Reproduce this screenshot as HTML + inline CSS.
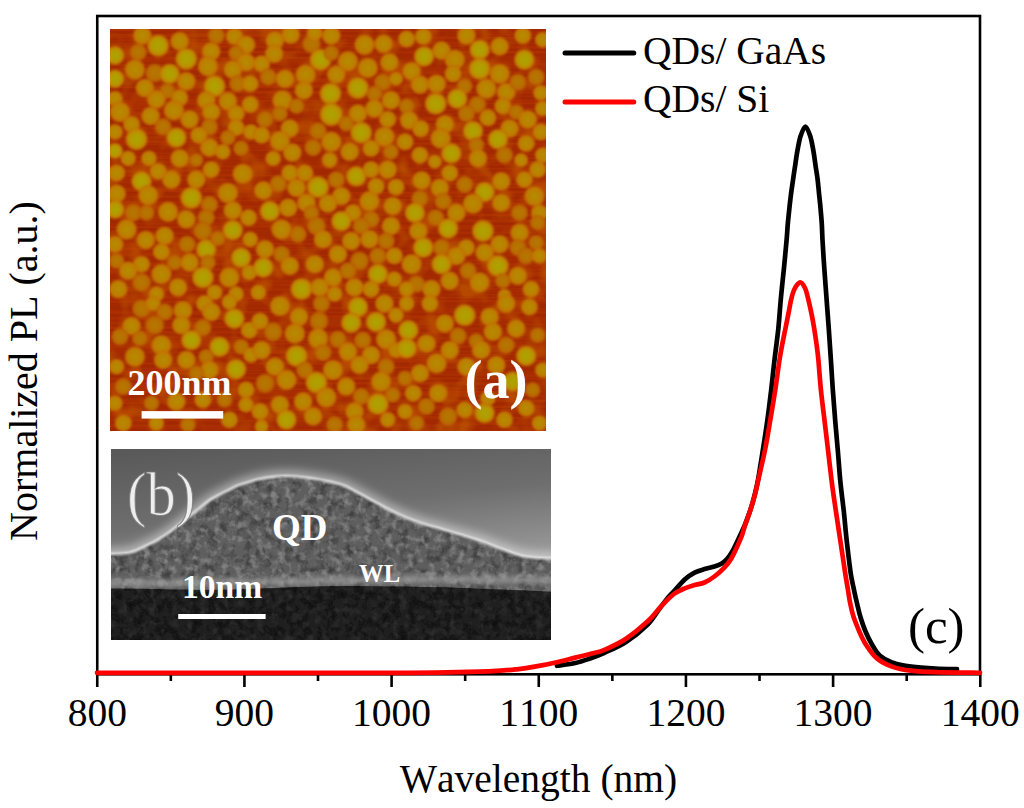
<!DOCTYPE html>
<html><head><meta charset="utf-8"><style>
html,body{margin:0;padding:0;background:#fff;width:1024px;height:808px;overflow:hidden}
svg{display:block}
text{font-family:"Liberation Serif",serif;font-kerning:none}
</style></head><body>
<svg width="1024" height="808" viewBox="0 0 1024 808">
<g id="afm">
<defs>
<clipPath id="afmclip"><rect x="110" y="29" width="436" height="402"/></clipPath>
<radialGradient id="gb"><stop offset="0" stop-color="#aca400"/><stop offset="0.45" stop-color="#b29c00"/><stop offset="0.75" stop-color="#c08a00"/><stop offset="0.92" stop-color="#c07000" stop-opacity="0.7"/><stop offset="1" stop-color="#b85800" stop-opacity="0"/></radialGradient>
<radialGradient id="gm"><stop offset="0" stop-color="#b48e00"/><stop offset="0.45" stop-color="#b98200"/><stop offset="0.75" stop-color="#c07c00"/><stop offset="0.92" stop-color="#c06800" stop-opacity="0.7"/><stop offset="1" stop-color="#b85000" stop-opacity="0"/></radialGradient>
<radialGradient id="gd"><stop offset="0" stop-color="#b47800"/><stop offset="0.45" stop-color="#b67200"/><stop offset="0.75" stop-color="#bb6800"/><stop offset="0.92" stop-color="#b85a00" stop-opacity="0.7"/><stop offset="1" stop-color="#b04800" stop-opacity="0"/></radialGradient>
<filter id="afmbg" filterUnits="userSpaceOnUse" x="110" y="29" width="436" height="402">
<feTurbulence type="fractalNoise" baseFrequency="0.05" numOctaves="2" seed="7" result="t"/>
<feColorMatrix in="t" type="matrix" values="0 0 0 0 0.74  0 0 0 0 0.30  0 0 0 0 0  0 0 0 -3 1.7"/>
</filter>
<filter id="afmstreak" filterUnits="userSpaceOnUse" x="110" y="29" width="436" height="402">
<feTurbulence type="fractalNoise" baseFrequency="0.004 0.35" numOctaves="2" seed="2" result="t"/>
<feColorMatrix in="t" type="matrix" values="0 0 0 0 0.56  0 0 0 0 0.06  0 0 0 0 0  0 0 0 -4 2.3"/>
</filter>
<filter id="afmblur" x="0" y="0" width="1" height="1"><feGaussianBlur stdDeviation="1.2"/></filter>
</defs>
<g clip-path="url(#afmclip)">
<rect x="110" y="29" width="436" height="402" fill="#a22800"/>
<rect x="110" y="29" width="436" height="402" filter="url(#afmbg)" opacity="0.3"/>
<rect x="110" y="29" width="436" height="402" filter="url(#afmstreak)" opacity="0.3"/>
<g filter="url(#afmblur)">
<circle cx="142.3" cy="35.6" r="10.0" fill="url(#gm)"/>
<circle cx="158.1" cy="45.6" r="11.7" fill="url(#gb)"/>
<circle cx="179.7" cy="41.4" r="10.0" fill="url(#gm)"/>
<circle cx="115.0" cy="55.5" r="10.0" fill="url(#gb)"/>
<circle cx="138.2" cy="52.2" r="9.2" fill="url(#gd)"/>
<circle cx="186.3" cy="58.9" r="11.7" fill="url(#gb)"/>
<circle cx="211.2" cy="51.4" r="10.0" fill="url(#gm)"/>
<circle cx="207.9" cy="66.3" r="10.9" fill="url(#gm)"/>
<circle cx="216.2" cy="35.6" r="9.2" fill="url(#gd)"/>
<circle cx="234.4" cy="36.5" r="9.2" fill="url(#gm)"/>
<circle cx="246.0" cy="44.8" r="10.0" fill="url(#gm)"/>
<circle cx="236.1" cy="53.1" r="8.4" fill="url(#gd)"/>
<circle cx="246.0" cy="62.2" r="10.0" fill="url(#gm)"/>
<circle cx="232.8" cy="69.6" r="10.0" fill="url(#gm)"/>
<circle cx="134.9" cy="69.6" r="10.9" fill="url(#gm)"/>
<circle cx="154.8" cy="73.0" r="10.0" fill="url(#gd)"/>
<circle cx="169.7" cy="73.8" r="10.9" fill="url(#gb)"/>
<circle cx="186.3" cy="81.3" r="10.0" fill="url(#gm)"/>
<circle cx="214.5" cy="86.2" r="11.7" fill="url(#gb)"/>
<circle cx="237.7" cy="83.7" r="9.2" fill="url(#gd)"/>
<circle cx="250.2" cy="83.7" r="9.2" fill="url(#gm)"/>
<circle cx="115.0" cy="78.8" r="10.0" fill="url(#gb)"/>
<circle cx="144.8" cy="87.9" r="10.0" fill="url(#gm)"/>
<circle cx="167.2" cy="91.2" r="8.4" fill="url(#gd)"/>
<circle cx="156.4" cy="99.5" r="10.0" fill="url(#gm)"/>
<circle cx="179.7" cy="97.8" r="9.2" fill="url(#gm)"/>
<circle cx="206.2" cy="100.3" r="10.0" fill="url(#gm)"/>
<circle cx="227.8" cy="101.2" r="10.0" fill="url(#gm)"/>
<circle cx="250.2" cy="104.5" r="9.2" fill="url(#gm)"/>
<circle cx="115.0" cy="98.7" r="8.4" fill="url(#gm)"/>
<circle cx="120.0" cy="111.9" r="10.9" fill="url(#gm)"/>
<circle cx="150.6" cy="116.1" r="10.0" fill="url(#gm)"/>
<circle cx="173.9" cy="110.3" r="10.9" fill="url(#gm)"/>
<circle cx="189.6" cy="119.4" r="10.0" fill="url(#gm)"/>
<circle cx="211.2" cy="111.9" r="10.0" fill="url(#gm)"/>
<circle cx="236.1" cy="113.6" r="9.2" fill="url(#gm)"/>
<circle cx="131.6" cy="124.4" r="9.2" fill="url(#gm)"/>
<circle cx="163.1" cy="126.9" r="9.2" fill="url(#gd)"/>
<circle cx="209.5" cy="126.9" r="9.2" fill="url(#gd)"/>
<circle cx="236.1" cy="127.7" r="9.2" fill="url(#gm)"/>
<circle cx="251.0" cy="131.9" r="8.4" fill="url(#gm)"/>
<circle cx="115.0" cy="131.9" r="8.4" fill="url(#gm)"/>
<circle cx="136.5" cy="139.3" r="11.7" fill="url(#gb)"/>
<circle cx="176.4" cy="137.7" r="10.9" fill="url(#gb)"/>
<circle cx="198.8" cy="135.2" r="9.2" fill="url(#gm)"/>
<circle cx="227.8" cy="137.7" r="8.4" fill="url(#gd)"/>
<circle cx="209.5" cy="147.6" r="10.0" fill="url(#gm)"/>
<circle cx="222.8" cy="151.8" r="8.4" fill="url(#gm)"/>
<circle cx="241.1" cy="148.4" r="8.4" fill="url(#gd)"/>
<circle cx="115.0" cy="150.9" r="8.4" fill="url(#gb)"/>
<circle cx="128.2" cy="158.4" r="8.4" fill="url(#gm)"/>
<circle cx="149.0" cy="158.4" r="8.4" fill="url(#gm)"/>
<circle cx="179.7" cy="158.4" r="10.0" fill="url(#gm)"/>
<circle cx="196.3" cy="160.1" r="7.5" fill="url(#gd)"/>
<circle cx="274.9" cy="40.6" r="10.0" fill="url(#gm)"/>
<circle cx="290.7" cy="34.8" r="10.0" fill="url(#gm)"/>
<circle cx="311.4" cy="43.9" r="10.0" fill="url(#gd)"/>
<circle cx="314.7" cy="33.1" r="8.4" fill="url(#gm)"/>
<circle cx="331.3" cy="35.6" r="10.0" fill="url(#gm)"/>
<circle cx="274.1" cy="53.9" r="10.0" fill="url(#gm)"/>
<circle cx="261.6" cy="63.8" r="9.2" fill="url(#gm)"/>
<circle cx="320.5" cy="59.7" r="11.7" fill="url(#gb)"/>
<circle cx="331.3" cy="53.1" r="8.4" fill="url(#gd)"/>
<circle cx="347.9" cy="61.3" r="10.9" fill="url(#gm)"/>
<circle cx="364.5" cy="44.8" r="10.9" fill="url(#gm)"/>
<circle cx="383.6" cy="43.9" r="10.0" fill="url(#gm)"/>
<circle cx="367.8" cy="68.0" r="10.9" fill="url(#gm)"/>
<circle cx="389.4" cy="62.2" r="10.0" fill="url(#gm)"/>
<circle cx="268.3" cy="77.1" r="9.2" fill="url(#gd)"/>
<circle cx="284.9" cy="78.8" r="10.0" fill="url(#gm)"/>
<circle cx="305.6" cy="74.6" r="10.9" fill="url(#gm)"/>
<circle cx="336.3" cy="74.6" r="10.0" fill="url(#gm)"/>
<circle cx="357.9" cy="87.9" r="11.7" fill="url(#gb)"/>
<circle cx="330.5" cy="93.7" r="11.7" fill="url(#gb)"/>
<circle cx="303.9" cy="90.4" r="10.0" fill="url(#gm)"/>
<circle cx="382.7" cy="82.1" r="9.2" fill="url(#gd)"/>
<circle cx="396.0" cy="78.8" r="7.5" fill="url(#gm)"/>
<circle cx="282.4" cy="100.3" r="10.9" fill="url(#gm)"/>
<circle cx="296.5" cy="106.1" r="8.4" fill="url(#gd)"/>
<circle cx="374.4" cy="93.7" r="8.4" fill="url(#gd)"/>
<circle cx="391.0" cy="100.3" r="10.0" fill="url(#gm)"/>
<circle cx="331.3" cy="114.4" r="12.5" fill="url(#gb)"/>
<circle cx="357.9" cy="113.6" r="10.0" fill="url(#gm)"/>
<circle cx="374.4" cy="108.6" r="10.0" fill="url(#gm)"/>
<circle cx="387.7" cy="119.4" r="9.2" fill="url(#gm)"/>
<circle cx="265.0" cy="119.4" r="9.2" fill="url(#gd)"/>
<circle cx="289.8" cy="128.5" r="10.0" fill="url(#gm)"/>
<circle cx="279.9" cy="113.6" r="8.4" fill="url(#gd)"/>
<circle cx="346.2" cy="123.6" r="8.4" fill="url(#gd)"/>
<circle cx="361.2" cy="132.7" r="11.7" fill="url(#gb)"/>
<circle cx="384.4" cy="136.8" r="10.9" fill="url(#gm)"/>
<circle cx="318.0" cy="131.0" r="9.2" fill="url(#gd)"/>
<circle cx="331.3" cy="141.8" r="10.9" fill="url(#gm)"/>
<circle cx="279.9" cy="141.0" r="10.9" fill="url(#gm)"/>
<circle cx="261.6" cy="135.2" r="9.2" fill="url(#gm)"/>
<circle cx="313.1" cy="147.6" r="9.2" fill="url(#gd)"/>
<circle cx="292.3" cy="152.6" r="10.0" fill="url(#gm)"/>
<circle cx="349.6" cy="151.8" r="10.0" fill="url(#gm)"/>
<circle cx="371.1" cy="148.4" r="9.2" fill="url(#gm)"/>
<circle cx="391.0" cy="151.8" r="8.4" fill="url(#gd)"/>
<circle cx="273.2" cy="158.4" r="8.4" fill="url(#gm)"/>
<circle cx="329.7" cy="160.1" r="8.4" fill="url(#gm)"/>
<circle cx="406.6" cy="39.0" r="9.2" fill="url(#gm)"/>
<circle cx="423.2" cy="36.5" r="9.2" fill="url(#gm)"/>
<circle cx="441.5" cy="50.6" r="10.0" fill="url(#gm)"/>
<circle cx="424.1" cy="56.4" r="10.9" fill="url(#gb)"/>
<circle cx="466.4" cy="35.6" r="10.0" fill="url(#gm)"/>
<circle cx="479.6" cy="49.7" r="10.9" fill="url(#gb)"/>
<circle cx="499.6" cy="46.4" r="10.0" fill="url(#gm)"/>
<circle cx="522.8" cy="35.6" r="9.2" fill="url(#gm)"/>
<circle cx="542.7" cy="39.8" r="8.4" fill="url(#gm)"/>
<circle cx="524.4" cy="59.7" r="10.9" fill="url(#gb)"/>
<circle cx="454.8" cy="59.7" r="10.9" fill="url(#gm)"/>
<circle cx="479.6" cy="68.8" r="11.7" fill="url(#gb)"/>
<circle cx="411.6" cy="71.3" r="10.0" fill="url(#gm)"/>
<circle cx="453.1" cy="73.8" r="9.2" fill="url(#gm)"/>
<circle cx="499.6" cy="73.8" r="10.9" fill="url(#gm)"/>
<circle cx="536.1" cy="77.1" r="9.2" fill="url(#gd)"/>
<circle cx="419.9" cy="84.6" r="10.0" fill="url(#gm)"/>
<circle cx="436.5" cy="83.8" r="10.0" fill="url(#gm)"/>
<circle cx="464.7" cy="86.2" r="8.4" fill="url(#gd)"/>
<circle cx="486.3" cy="88.7" r="10.9" fill="url(#gm)"/>
<circle cx="506.2" cy="92.0" r="10.0" fill="url(#gm)"/>
<circle cx="517.8" cy="82.1" r="9.2" fill="url(#gd)"/>
<circle cx="541.0" cy="92.9" r="8.4" fill="url(#gm)"/>
<circle cx="435.7" cy="103.7" r="11.7" fill="url(#gb)"/>
<circle cx="457.2" cy="98.7" r="10.9" fill="url(#gb)"/>
<circle cx="477.2" cy="104.5" r="9.2" fill="url(#gd)"/>
<circle cx="502.9" cy="106.2" r="9.2" fill="url(#gm)"/>
<circle cx="406.6" cy="106.2" r="8.4" fill="url(#gd)"/>
<circle cx="466.4" cy="113.6" r="9.2" fill="url(#gd)"/>
<circle cx="487.9" cy="117.8" r="9.2" fill="url(#gm)"/>
<circle cx="516.1" cy="112.0" r="8.4" fill="url(#gd)"/>
<circle cx="527.8" cy="119.4" r="10.0" fill="url(#gm)"/>
<circle cx="542.7" cy="108.6" r="8.4" fill="url(#gm)"/>
<circle cx="409.1" cy="120.3" r="10.0" fill="url(#gm)"/>
<circle cx="444.8" cy="124.4" r="10.0" fill="url(#gm)"/>
<circle cx="420.7" cy="128.6" r="9.2" fill="url(#gm)"/>
<circle cx="473.0" cy="131.0" r="10.9" fill="url(#gb)"/>
<circle cx="509.5" cy="128.6" r="10.0" fill="url(#gm)"/>
<circle cx="541.0" cy="131.9" r="9.2" fill="url(#gm)"/>
<circle cx="440.7" cy="138.5" r="10.9" fill="url(#gm)"/>
<circle cx="497.9" cy="139.3" r="10.9" fill="url(#gb)"/>
<circle cx="405.0" cy="141.8" r="9.2" fill="url(#gm)"/>
<circle cx="476.3" cy="145.1" r="8.4" fill="url(#gd)"/>
<circle cx="526.1" cy="143.5" r="9.2" fill="url(#gm)"/>
<circle cx="419.9" cy="155.1" r="9.2" fill="url(#gm)"/>
<circle cx="451.4" cy="153.4" r="10.9" fill="url(#gb)"/>
<circle cx="478.0" cy="158.4" r="10.0" fill="url(#gm)"/>
<circle cx="504.5" cy="155.1" r="9.2" fill="url(#gd)"/>
<circle cx="542.7" cy="155.1" r="8.4" fill="url(#gm)"/>
<circle cx="434.8" cy="161.7" r="7.5" fill="url(#gm)"/>
<circle cx="521.1" cy="160.1" r="7.5" fill="url(#gm)"/>
<circle cx="116.6" cy="173.0" r="9.2" fill="url(#gm)"/>
<circle cx="141.5" cy="181.2" r="10.9" fill="url(#gb)"/>
<circle cx="158.1" cy="171.3" r="9.2" fill="url(#gm)"/>
<circle cx="171.4" cy="179.6" r="10.0" fill="url(#gm)"/>
<circle cx="196.3" cy="179.6" r="10.0" fill="url(#gm)"/>
<circle cx="211.2" cy="169.6" r="9.2" fill="url(#gm)"/>
<circle cx="242.7" cy="173.8" r="10.9" fill="url(#gm)"/>
<circle cx="116.6" cy="193.7" r="10.0" fill="url(#gm)"/>
<circle cx="148.2" cy="195.3" r="10.9" fill="url(#gm)"/>
<circle cx="191.3" cy="197.8" r="11.7" fill="url(#gb)"/>
<circle cx="209.5" cy="204.5" r="9.2" fill="url(#gd)"/>
<circle cx="227.8" cy="192.9" r="10.9" fill="url(#gm)"/>
<circle cx="115.0" cy="209.4" r="10.0" fill="url(#gb)"/>
<circle cx="133.2" cy="212.8" r="9.2" fill="url(#gd)"/>
<circle cx="168.1" cy="211.9" r="10.9" fill="url(#gm)"/>
<circle cx="186.3" cy="219.4" r="10.0" fill="url(#gm)"/>
<circle cx="206.2" cy="217.7" r="9.2" fill="url(#gd)"/>
<circle cx="232.8" cy="210.3" r="10.0" fill="url(#gm)"/>
<circle cx="248.5" cy="217.7" r="9.2" fill="url(#gm)"/>
<circle cx="126.6" cy="229.4" r="10.9" fill="url(#gm)"/>
<circle cx="146.5" cy="212.8" r="8.4" fill="url(#gd)"/>
<circle cx="202.9" cy="231.0" r="10.0" fill="url(#gd)"/>
<circle cx="232.8" cy="230.2" r="10.9" fill="url(#gb)"/>
<circle cx="250.2" cy="239.3" r="8.4" fill="url(#gm)"/>
<circle cx="115.0" cy="244.3" r="9.2" fill="url(#gm)"/>
<circle cx="145.7" cy="240.1" r="10.0" fill="url(#gm)"/>
<circle cx="164.7" cy="236.0" r="10.0" fill="url(#gm)"/>
<circle cx="187.1" cy="244.3" r="9.2" fill="url(#gd)"/>
<circle cx="206.2" cy="249.3" r="10.9" fill="url(#gb)"/>
<circle cx="217.8" cy="238.5" r="8.4" fill="url(#gd)"/>
<circle cx="161.4" cy="251.8" r="9.2" fill="url(#gm)"/>
<circle cx="241.1" cy="257.6" r="10.9" fill="url(#gb)"/>
<circle cx="116.6" cy="260.9" r="8.4" fill="url(#gd)"/>
<circle cx="141.5" cy="264.2" r="9.2" fill="url(#gm)"/>
<circle cx="174.7" cy="262.5" r="8.4" fill="url(#gd)"/>
<circle cx="189.6" cy="262.5" r="10.0" fill="url(#gm)"/>
<circle cx="207.9" cy="262.5" r="8.4" fill="url(#gd)"/>
<circle cx="128.2" cy="270.8" r="10.0" fill="url(#gm)"/>
<circle cx="161.4" cy="274.1" r="10.9" fill="url(#gm)"/>
<circle cx="202.9" cy="277.5" r="11.7" fill="url(#gb)"/>
<circle cx="229.4" cy="277.5" r="10.9" fill="url(#gm)"/>
<circle cx="249.3" cy="272.5" r="8.4" fill="url(#gm)"/>
<circle cx="141.5" cy="282.4" r="10.0" fill="url(#gd)"/>
<circle cx="178.0" cy="287.4" r="10.0" fill="url(#gm)"/>
<circle cx="118.3" cy="289.1" r="10.0" fill="url(#gm)"/>
<circle cx="214.5" cy="292.4" r="8.4" fill="url(#gm)"/>
<circle cx="236.1" cy="294.1" r="8.4" fill="url(#gm)"/>
<circle cx="156.4" cy="294.1" r="8.4" fill="url(#gm)"/>
<circle cx="289.8" cy="173.0" r="9.2" fill="url(#gm)"/>
<circle cx="304.8" cy="173.0" r="9.2" fill="url(#gm)"/>
<circle cx="336.3" cy="179.6" r="9.2" fill="url(#gd)"/>
<circle cx="356.2" cy="176.3" r="10.9" fill="url(#gb)"/>
<circle cx="371.1" cy="169.6" r="9.2" fill="url(#gm)"/>
<circle cx="387.7" cy="169.6" r="10.0" fill="url(#gm)"/>
<circle cx="263.3" cy="190.4" r="10.0" fill="url(#gm)"/>
<circle cx="278.2" cy="183.7" r="9.2" fill="url(#gd)"/>
<circle cx="296.5" cy="187.9" r="10.0" fill="url(#gm)"/>
<circle cx="318.0" cy="187.1" r="11.7" fill="url(#gb)"/>
<circle cx="341.3" cy="196.2" r="10.0" fill="url(#gm)"/>
<circle cx="369.5" cy="201.2" r="10.9" fill="url(#gm)"/>
<circle cx="376.1" cy="186.2" r="9.2" fill="url(#gm)"/>
<circle cx="396.0" cy="187.1" r="9.2" fill="url(#gm)"/>
<circle cx="269.9" cy="211.1" r="10.9" fill="url(#gb)"/>
<circle cx="288.2" cy="207.8" r="10.0" fill="url(#gm)"/>
<circle cx="306.4" cy="202.8" r="10.0" fill="url(#gm)"/>
<circle cx="328.0" cy="203.6" r="10.0" fill="url(#gm)"/>
<circle cx="352.9" cy="212.8" r="9.2" fill="url(#gm)"/>
<circle cx="341.3" cy="221.1" r="10.9" fill="url(#gb)"/>
<circle cx="392.7" cy="206.1" r="10.0" fill="url(#gm)"/>
<circle cx="371.1" cy="219.4" r="9.2" fill="url(#gd)"/>
<circle cx="311.4" cy="212.8" r="8.4" fill="url(#gd)"/>
<circle cx="281.5" cy="229.4" r="10.9" fill="url(#gm)"/>
<circle cx="298.1" cy="234.3" r="9.2" fill="url(#gd)"/>
<circle cx="316.4" cy="226.0" r="10.0" fill="url(#gd)"/>
<circle cx="323.0" cy="239.3" r="10.0" fill="url(#gm)"/>
<circle cx="361.2" cy="226.0" r="9.2" fill="url(#gd)"/>
<circle cx="391.0" cy="226.0" r="10.0" fill="url(#gm)"/>
<circle cx="265.0" cy="249.3" r="10.0" fill="url(#gm)"/>
<circle cx="281.5" cy="254.2" r="9.2" fill="url(#gd)"/>
<circle cx="351.2" cy="241.0" r="10.0" fill="url(#gm)"/>
<circle cx="369.5" cy="239.3" r="10.0" fill="url(#gm)"/>
<circle cx="386.1" cy="241.0" r="9.2" fill="url(#gd)"/>
<circle cx="337.9" cy="254.2" r="10.0" fill="url(#gm)"/>
<circle cx="359.5" cy="260.9" r="10.0" fill="url(#gd)"/>
<circle cx="377.8" cy="255.9" r="9.2" fill="url(#gd)"/>
<circle cx="394.3" cy="255.9" r="9.2" fill="url(#gm)"/>
<circle cx="263.3" cy="267.5" r="10.9" fill="url(#gb)"/>
<circle cx="289.8" cy="265.9" r="10.0" fill="url(#gm)"/>
<circle cx="314.7" cy="264.2" r="10.0" fill="url(#gm)"/>
<circle cx="333.0" cy="277.5" r="10.0" fill="url(#gm)"/>
<circle cx="347.9" cy="270.8" r="9.2" fill="url(#gd)"/>
<circle cx="377.8" cy="274.1" r="10.9" fill="url(#gb)"/>
<circle cx="394.3" cy="279.1" r="8.4" fill="url(#gm)"/>
<circle cx="301.4" cy="289.1" r="11.7" fill="url(#gb)"/>
<circle cx="319.7" cy="287.4" r="10.0" fill="url(#gm)"/>
<circle cx="354.5" cy="287.4" r="10.0" fill="url(#gm)"/>
<circle cx="371.1" cy="289.1" r="9.2" fill="url(#gm)"/>
<circle cx="258.3" cy="292.4" r="8.4" fill="url(#gm)"/>
<circle cx="334.6" cy="294.1" r="8.4" fill="url(#gm)"/>
<circle cx="449.8" cy="173.0" r="9.2" fill="url(#gm)"/>
<circle cx="537.7" cy="169.6" r="9.2" fill="url(#gm)"/>
<circle cx="421.6" cy="180.4" r="10.0" fill="url(#gm)"/>
<circle cx="439.8" cy="187.9" r="10.0" fill="url(#gm)"/>
<circle cx="464.7" cy="184.6" r="9.2" fill="url(#gd)"/>
<circle cx="484.6" cy="192.0" r="10.9" fill="url(#gb)"/>
<circle cx="501.2" cy="181.3" r="10.0" fill="url(#gm)"/>
<circle cx="524.4" cy="179.6" r="9.2" fill="url(#gm)"/>
<circle cx="534.4" cy="196.2" r="10.9" fill="url(#gm)"/>
<circle cx="419.9" cy="198.7" r="9.2" fill="url(#gd)"/>
<circle cx="443.1" cy="201.2" r="9.2" fill="url(#gd)"/>
<circle cx="473.0" cy="203.7" r="10.9" fill="url(#gm)"/>
<circle cx="501.2" cy="202.8" r="10.0" fill="url(#gm)"/>
<circle cx="519.5" cy="212.8" r="9.2" fill="url(#gd)"/>
<circle cx="539.4" cy="212.8" r="9.2" fill="url(#gm)"/>
<circle cx="414.9" cy="212.8" r="10.9" fill="url(#gb)"/>
<circle cx="456.4" cy="212.8" r="10.0" fill="url(#gm)"/>
<circle cx="435.7" cy="217.8" r="9.2" fill="url(#gd)"/>
<circle cx="448.1" cy="228.5" r="10.9" fill="url(#gb)"/>
<circle cx="483.0" cy="231.0" r="11.7" fill="url(#gb)"/>
<circle cx="418.3" cy="231.0" r="10.0" fill="url(#gm)"/>
<circle cx="519.5" cy="232.7" r="10.0" fill="url(#gm)"/>
<circle cx="537.7" cy="222.7" r="8.4" fill="url(#gd)"/>
<circle cx="423.2" cy="247.6" r="10.9" fill="url(#gb)"/>
<circle cx="441.5" cy="247.6" r="9.2" fill="url(#gd)"/>
<circle cx="466.4" cy="247.6" r="9.2" fill="url(#gm)"/>
<circle cx="499.6" cy="244.3" r="10.0" fill="url(#gm)"/>
<circle cx="517.8" cy="247.6" r="9.2" fill="url(#gd)"/>
<circle cx="536.1" cy="242.6" r="8.4" fill="url(#gd)"/>
<circle cx="456.4" cy="255.9" r="10.0" fill="url(#gm)"/>
<circle cx="484.6" cy="252.6" r="10.0" fill="url(#gm)"/>
<circle cx="411.6" cy="264.2" r="10.9" fill="url(#gm)"/>
<circle cx="441.5" cy="264.2" r="10.9" fill="url(#gb)"/>
<circle cx="497.9" cy="265.9" r="11.7" fill="url(#gb)"/>
<circle cx="526.1" cy="255.9" r="9.2" fill="url(#gd)"/>
<circle cx="539.4" cy="255.9" r="8.4" fill="url(#gm)"/>
<circle cx="468.0" cy="270.8" r="9.2" fill="url(#gd)"/>
<circle cx="517.8" cy="275.8" r="10.0" fill="url(#gm)"/>
<circle cx="449.8" cy="280.8" r="10.0" fill="url(#gm)"/>
<circle cx="479.6" cy="282.5" r="10.9" fill="url(#gm)"/>
<circle cx="416.6" cy="284.1" r="9.2" fill="url(#gd)"/>
<circle cx="431.5" cy="289.1" r="10.0" fill="url(#gm)"/>
<circle cx="406.6" cy="289.1" r="8.4" fill="url(#gm)"/>
<circle cx="502.9" cy="280.8" r="8.4" fill="url(#gd)"/>
<circle cx="531.1" cy="289.1" r="9.2" fill="url(#gm)"/>
<circle cx="504.5" cy="295.7" r="7.5" fill="url(#gm)"/>
<circle cx="141.5" cy="308.6" r="10.0" fill="url(#gd)"/>
<circle cx="153.1" cy="303.6" r="8.4" fill="url(#gm)"/>
<circle cx="164.7" cy="311.9" r="9.2" fill="url(#gd)"/>
<circle cx="183.0" cy="310.3" r="10.0" fill="url(#gm)"/>
<circle cx="204.6" cy="303.6" r="9.2" fill="url(#gm)"/>
<circle cx="211.2" cy="311.9" r="10.0" fill="url(#gm)"/>
<circle cx="229.4" cy="302.0" r="8.4" fill="url(#gm)"/>
<circle cx="234.4" cy="318.6" r="10.9" fill="url(#gb)"/>
<circle cx="131.6" cy="326.0" r="10.0" fill="url(#gm)"/>
<circle cx="154.8" cy="325.2" r="10.0" fill="url(#gd)"/>
<circle cx="181.3" cy="325.2" r="10.0" fill="url(#gm)"/>
<circle cx="202.9" cy="327.7" r="9.2" fill="url(#gd)"/>
<circle cx="249.3" cy="330.2" r="9.2" fill="url(#gm)"/>
<circle cx="120.0" cy="336.8" r="9.2" fill="url(#gd)"/>
<circle cx="139.9" cy="338.5" r="8.4" fill="url(#gd)"/>
<circle cx="161.4" cy="345.1" r="10.9" fill="url(#gm)"/>
<circle cx="191.3" cy="340.1" r="10.9" fill="url(#gb)"/>
<circle cx="219.5" cy="346.8" r="10.9" fill="url(#gb)"/>
<circle cx="241.1" cy="346.8" r="8.4" fill="url(#gd)"/>
<circle cx="134.9" cy="356.7" r="10.9" fill="url(#gm)"/>
<circle cx="163.1" cy="360.0" r="10.0" fill="url(#gm)"/>
<circle cx="186.3" cy="360.0" r="10.0" fill="url(#gm)"/>
<circle cx="206.2" cy="356.7" r="8.4" fill="url(#gd)"/>
<circle cx="116.6" cy="366.7" r="8.4" fill="url(#gm)"/>
<circle cx="209.5" cy="370.0" r="10.0" fill="url(#gm)"/>
<circle cx="236.1" cy="369.2" r="10.9" fill="url(#gb)"/>
<circle cx="251.0" cy="355.1" r="8.4" fill="url(#gm)"/>
<circle cx="196.3" cy="373.3" r="8.4" fill="url(#gd)"/>
<circle cx="123.3" cy="386.6" r="9.2" fill="url(#gd)"/>
<circle cx="176.4" cy="401.5" r="10.0" fill="url(#gm)"/>
<circle cx="202.9" cy="399.9" r="9.2" fill="url(#gm)"/>
<circle cx="224.5" cy="399.9" r="8.4" fill="url(#gd)"/>
<circle cx="246.0" cy="389.9" r="9.2" fill="url(#gm)"/>
<circle cx="246.0" cy="404.8" r="8.4" fill="url(#gm)"/>
<circle cx="115.0" cy="403.2" r="8.4" fill="url(#gm)"/>
<circle cx="123.3" cy="423.1" r="9.2" fill="url(#gm)"/>
<circle cx="156.4" cy="423.1" r="8.4" fill="url(#gm)"/>
<circle cx="188.0" cy="424.7" r="8.4" fill="url(#gd)"/>
<circle cx="229.4" cy="419.8" r="9.2" fill="url(#gm)"/>
<circle cx="151.5" cy="403.2" r="8.4" fill="url(#gd)"/>
<circle cx="279.9" cy="306.1" r="10.9" fill="url(#gm)"/>
<circle cx="321.4" cy="303.6" r="9.2" fill="url(#gd)"/>
<circle cx="357.9" cy="307.0" r="10.9" fill="url(#gb)"/>
<circle cx="384.4" cy="303.6" r="10.0" fill="url(#gm)"/>
<circle cx="260.0" cy="321.1" r="9.2" fill="url(#gm)"/>
<circle cx="299.0" cy="316.9" r="10.0" fill="url(#gm)"/>
<circle cx="318.9" cy="321.1" r="10.0" fill="url(#gd)"/>
<circle cx="351.2" cy="322.7" r="10.9" fill="url(#gb)"/>
<circle cx="376.1" cy="321.9" r="10.9" fill="url(#gb)"/>
<circle cx="396.0" cy="315.2" r="8.4" fill="url(#gm)"/>
<circle cx="273.2" cy="331.8" r="10.0" fill="url(#gd)"/>
<circle cx="294.8" cy="333.5" r="10.9" fill="url(#gm)"/>
<circle cx="318.0" cy="338.5" r="10.9" fill="url(#gm)"/>
<circle cx="337.9" cy="339.3" r="9.2" fill="url(#gd)"/>
<circle cx="362.8" cy="340.1" r="9.2" fill="url(#gd)"/>
<circle cx="386.1" cy="339.3" r="10.9" fill="url(#gm)"/>
<circle cx="261.6" cy="350.1" r="10.0" fill="url(#gm)"/>
<circle cx="296.5" cy="355.9" r="11.7" fill="url(#gb)"/>
<circle cx="323.0" cy="352.6" r="9.2" fill="url(#gd)"/>
<circle cx="347.9" cy="351.7" r="10.0" fill="url(#gm)"/>
<circle cx="371.1" cy="355.1" r="10.0" fill="url(#gm)"/>
<circle cx="396.0" cy="350.1" r="8.4" fill="url(#gm)"/>
<circle cx="274.9" cy="366.7" r="10.0" fill="url(#gm)"/>
<circle cx="304.8" cy="370.0" r="9.2" fill="url(#gd)"/>
<circle cx="333.0" cy="370.0" r="10.9" fill="url(#gm)"/>
<circle cx="359.5" cy="365.0" r="10.0" fill="url(#gm)"/>
<circle cx="386.1" cy="366.7" r="9.2" fill="url(#gd)"/>
<circle cx="265.0" cy="383.3" r="10.0" fill="url(#gd)"/>
<circle cx="286.5" cy="379.9" r="10.9" fill="url(#gm)"/>
<circle cx="316.4" cy="382.4" r="11.7" fill="url(#gb)"/>
<circle cx="346.2" cy="386.6" r="10.0" fill="url(#gm)"/>
<circle cx="381.1" cy="381.6" r="10.9" fill="url(#gm)"/>
<circle cx="326.3" cy="397.4" r="10.9" fill="url(#gm)"/>
<circle cx="361.2" cy="396.5" r="9.2" fill="url(#gd)"/>
<circle cx="377.8" cy="404.0" r="11.7" fill="url(#gb)"/>
<circle cx="392.7" cy="394.9" r="8.4" fill="url(#gd)"/>
<circle cx="279.9" cy="404.8" r="10.0" fill="url(#gm)"/>
<circle cx="303.1" cy="401.5" r="10.0" fill="url(#gm)"/>
<circle cx="260.0" cy="411.5" r="9.2" fill="url(#gm)"/>
<circle cx="354.5" cy="411.5" r="10.0" fill="url(#gm)"/>
<circle cx="286.5" cy="419.8" r="10.9" fill="url(#gb)"/>
<circle cx="313.1" cy="416.4" r="10.0" fill="url(#gm)"/>
<circle cx="334.6" cy="424.7" r="9.2" fill="url(#gd)"/>
<circle cx="356.2" cy="424.7" r="10.0" fill="url(#gm)"/>
<circle cx="387.7" cy="419.8" r="8.4" fill="url(#gm)"/>
<circle cx="261.6" cy="426.4" r="7.5" fill="url(#gm)"/>
<circle cx="429.9" cy="303.6" r="9.2" fill="url(#gm)"/>
<circle cx="406.6" cy="303.6" r="8.4" fill="url(#gm)"/>
<circle cx="464.7" cy="315.3" r="11.7" fill="url(#gb)"/>
<circle cx="489.6" cy="316.9" r="10.0" fill="url(#gm)"/>
<circle cx="506.2" cy="303.6" r="10.0" fill="url(#gm)"/>
<circle cx="529.4" cy="307.0" r="9.2" fill="url(#gm)"/>
<circle cx="444.8" cy="323.5" r="10.0" fill="url(#gm)"/>
<circle cx="408.3" cy="330.2" r="10.9" fill="url(#gb)"/>
<circle cx="426.5" cy="343.5" r="10.0" fill="url(#gm)"/>
<circle cx="458.1" cy="336.0" r="9.2" fill="url(#gd)"/>
<circle cx="492.9" cy="331.8" r="10.0" fill="url(#gm)"/>
<circle cx="516.1" cy="328.5" r="10.0" fill="url(#gm)"/>
<circle cx="537.7" cy="335.2" r="8.4" fill="url(#gd)"/>
<circle cx="406.6" cy="348.4" r="10.9" fill="url(#gb)"/>
<circle cx="449.8" cy="350.1" r="10.0" fill="url(#gm)"/>
<circle cx="476.3" cy="341.0" r="8.4" fill="url(#gd)"/>
<circle cx="481.3" cy="350.1" r="10.0" fill="url(#gm)"/>
<circle cx="506.2" cy="345.1" r="9.2" fill="url(#gd)"/>
<circle cx="526.1" cy="355.9" r="10.9" fill="url(#gb)"/>
<circle cx="436.5" cy="363.4" r="10.9" fill="url(#gm)"/>
<circle cx="466.4" cy="366.7" r="10.0" fill="url(#gm)"/>
<circle cx="496.2" cy="365.0" r="10.0" fill="url(#gm)"/>
<circle cx="542.7" cy="370.0" r="8.4" fill="url(#gm)"/>
<circle cx="419.9" cy="373.3" r="10.0" fill="url(#gm)"/>
<circle cx="405.0" cy="378.3" r="8.4" fill="url(#gd)"/>
<circle cx="512.8" cy="381.6" r="10.9" fill="url(#gb)"/>
<circle cx="413.3" cy="393.2" r="9.2" fill="url(#gm)"/>
<circle cx="438.2" cy="393.2" r="10.0" fill="url(#gm)"/>
<circle cx="532.7" cy="389.9" r="8.4" fill="url(#gd)"/>
<circle cx="426.5" cy="406.5" r="9.2" fill="url(#gd)"/>
<circle cx="448.1" cy="416.5" r="10.0" fill="url(#gd)"/>
<circle cx="484.6" cy="413.1" r="10.9" fill="url(#gb)"/>
<circle cx="504.5" cy="419.8" r="9.2" fill="url(#gm)"/>
<circle cx="526.1" cy="408.2" r="9.2" fill="url(#gm)"/>
<circle cx="405.0" cy="411.5" r="8.4" fill="url(#gm)"/>
<circle cx="464.7" cy="409.8" r="9.2" fill="url(#gm)"/>
<circle cx="416.6" cy="423.1" r="8.4" fill="url(#gd)"/>
<circle cx="539.4" cy="423.1" r="8.4" fill="url(#gm)"/>
<circle cx="487.9" cy="398.2" r="8.4" fill="url(#gm)"/>
</g></g>
<g font-family="Liberation Serif" font-weight="bold" fill="#ffffff"><text x="127.5" y="394.7" font-size="36">200nm</text><text x="464.6" y="398" font-size="54">(a)</text></g>
<rect x="141.6" y="411.1" width="81.6" height="7.5" fill="#ffffff"/>
</g>
<g id="tem">
<defs>
<clipPath id="temclip"><rect x="111" y="449" width="440" height="191"/></clipPath>
<linearGradient id="vac" x1="0" y1="0" x2="0.25" y2="1">
<stop offset="0" stop-color="#585858"/><stop offset="0.4" stop-color="#6e6e6e"/><stop offset="0.75" stop-color="#9a9a9a"/><stop offset="1" stop-color="#c4c4c4"/></linearGradient>
<filter id="noise1" x="0" y="0" width="100%" height="100%">
<feTurbulence type="fractalNoise" baseFrequency="0.11" numOctaves="3" seed="4" result="t"/>
<feColorMatrix in="t" type="matrix" values="0 0 0 0 0  0 0 0 0 0  0 0 0 0 0  0 0 0 -3.2 1.75" result="a"/>
<feComposite in="SourceGraphic" in2="a" operator="in"/>
</filter>
<filter id="noise2" x="0" y="0" width="100%" height="100%">
<feTurbulence type="fractalNoise" baseFrequency="0.14" numOctaves="3" seed="9" result="t"/>
<feColorMatrix in="t" type="matrix" values="0 0 0 0 1  0 0 0 0 1  0 0 0 0 1  0 0 0 -3.2 1.7" result="a"/>
<feComposite in="SourceGraphic" in2="a" operator="in"/>
</filter>
<filter id="blur2" filterUnits="userSpaceOnUse" x="100" y="440" width="460" height="210"><feGaussianBlur stdDeviation="2.5"/></filter>
<filter id="blur4" filterUnits="userSpaceOnUse" x="100" y="440" width="460" height="210"><feGaussianBlur stdDeviation="5"/></filter>
<filter id="blur1" filterUnits="userSpaceOnUse" x="100" y="440" width="460" height="210"><feGaussianBlur stdDeviation="0.9"/></filter>
<filter id="glow" x="-20%" y="-20%" width="140%" height="140%"><feGaussianBlur in="SourceAlpha" stdDeviation="1.5" result="b"/><feFlood flood-color="#000" flood-opacity="0.5"/><feComposite in2="b" operator="in"/><feMerge><feMergeNode/><feMergeNode in="SourceGraphic"/></feMerge></filter>
</defs>
<g clip-path="url(#temclip)">
<rect x="111" y="449" width="440" height="191" fill="url(#vac)"/>
<path d="M105.0,554.0 C109.2,553.8 122.5,554.2 130.0,552.5 C137.5,550.8 145.0,546.3 150.0,544.0 C155.0,541.7 156.8,540.5 160.0,538.5 C163.2,536.5 166.3,534.6 169.5,532.3 C172.7,530.0 176.1,527.1 179.3,524.5 C182.6,521.9 185.8,519.2 189.0,516.6 C192.2,514.0 195.5,511.4 198.8,508.8 C202.1,506.2 205.3,503.3 208.6,501.0 C211.9,498.7 215.2,497.0 218.4,495.2 C221.7,493.4 224.8,491.9 228.1,490.3 C231.3,488.7 234.6,486.9 237.9,485.6 C241.2,484.3 244.4,483.5 247.7,482.5 C250.9,481.5 254.1,480.3 257.4,479.5 C260.6,478.7 263.9,478.1 267.2,477.6 C270.5,477.1 273.8,476.8 277.0,476.5 C280.2,476.2 283.4,476.0 286.7,476.0 C289.9,476.0 293.2,476.2 296.5,476.5 C299.8,476.8 303.1,477.2 306.3,477.6 C309.6,478.0 312.8,478.5 316.0,479.0 C319.2,479.5 322.6,480.1 325.8,480.8 C329.1,481.5 332.2,482.1 335.5,483.0 C338.8,483.9 342.6,484.9 345.3,486.0 C348.1,487.1 349.1,487.9 352.0,489.5 C354.9,491.1 359.3,493.5 363.0,495.5 C366.7,497.5 370.3,499.5 374.0,501.5 C377.7,503.5 381.3,505.6 385.0,507.5 C388.7,509.4 392.3,511.2 396.0,513.0 C399.7,514.8 403.3,516.5 407.0,518.0 C410.7,519.5 414.3,520.8 418.0,522.0 C421.7,523.2 425.3,524.4 429.0,525.5 C432.7,526.6 436.3,527.4 440.0,528.5 C443.7,529.6 447.3,530.9 451.0,532.0 C454.7,533.1 458.3,533.9 462.0,535.0 C465.7,536.1 469.3,537.3 473.0,538.5 C476.7,539.7 480.3,540.7 484.0,542.0 C487.7,543.3 491.3,545.1 495.0,546.5 C498.7,547.9 502.3,549.2 506.0,550.5 C509.7,551.8 513.3,553.4 517.0,554.5 C520.7,555.6 524.2,556.4 528.0,557.0 C531.8,557.6 535.3,557.8 540.0,558.0 C544.7,558.2 553.3,558.4 556.0,558.5" fill="none" stroke="#ffffff" stroke-opacity="0.45" stroke-width="12" filter="url(#blur4)"/>
<path d="M105.0,554.0 C109.2,553.8 122.5,554.2 130.0,552.5 C137.5,550.8 145.0,546.3 150.0,544.0 C155.0,541.7 156.8,540.5 160.0,538.5 C163.2,536.5 166.3,534.6 169.5,532.3 C172.7,530.0 176.1,527.1 179.3,524.5 C182.6,521.9 185.8,519.2 189.0,516.6 C192.2,514.0 195.5,511.4 198.8,508.8 C202.1,506.2 205.3,503.3 208.6,501.0 C211.9,498.7 215.2,497.0 218.4,495.2 C221.7,493.4 224.8,491.9 228.1,490.3 C231.3,488.7 234.6,486.9 237.9,485.6 C241.2,484.3 244.4,483.5 247.7,482.5 C250.9,481.5 254.1,480.3 257.4,479.5 C260.6,478.7 263.9,478.1 267.2,477.6 C270.5,477.1 273.8,476.8 277.0,476.5 C280.2,476.2 283.4,476.0 286.7,476.0 C289.9,476.0 293.2,476.2 296.5,476.5 C299.8,476.8 303.1,477.2 306.3,477.6 C309.6,478.0 312.8,478.5 316.0,479.0 C319.2,479.5 322.6,480.1 325.8,480.8 C329.1,481.5 332.2,482.1 335.5,483.0 C338.8,483.9 342.6,484.9 345.3,486.0 C348.1,487.1 349.1,487.9 352.0,489.5 C354.9,491.1 359.3,493.5 363.0,495.5 C366.7,497.5 370.3,499.5 374.0,501.5 C377.7,503.5 381.3,505.6 385.0,507.5 C388.7,509.4 392.3,511.2 396.0,513.0 C399.7,514.8 403.3,516.5 407.0,518.0 C410.7,519.5 414.3,520.8 418.0,522.0 C421.7,523.2 425.3,524.4 429.0,525.5 C432.7,526.6 436.3,527.4 440.0,528.5 C443.7,529.6 447.3,530.9 451.0,532.0 C454.7,533.1 458.3,533.9 462.0,535.0 C465.7,536.1 469.3,537.3 473.0,538.5 C476.7,539.7 480.3,540.7 484.0,542.0 C487.7,543.3 491.3,545.1 495.0,546.5 C498.7,547.9 502.3,549.2 506.0,550.5 C509.7,551.8 513.3,553.4 517.0,554.5 C520.7,555.6 524.2,556.4 528.0,557.0 C531.8,557.6 535.3,557.8 540.0,558.0 C544.7,558.2 553.3,558.4 556.0,558.5 L556,595 L105,595 Z" fill="#5e5e5e"/>
<path d="M105.0,554.0 C109.2,553.8 122.5,554.2 130.0,552.5 C137.5,550.8 145.0,546.3 150.0,544.0 C155.0,541.7 156.8,540.5 160.0,538.5 C163.2,536.5 166.3,534.6 169.5,532.3 C172.7,530.0 176.1,527.1 179.3,524.5 C182.6,521.9 185.8,519.2 189.0,516.6 C192.2,514.0 195.5,511.4 198.8,508.8 C202.1,506.2 205.3,503.3 208.6,501.0 C211.9,498.7 215.2,497.0 218.4,495.2 C221.7,493.4 224.8,491.9 228.1,490.3 C231.3,488.7 234.6,486.9 237.9,485.6 C241.2,484.3 244.4,483.5 247.7,482.5 C250.9,481.5 254.1,480.3 257.4,479.5 C260.6,478.7 263.9,478.1 267.2,477.6 C270.5,477.1 273.8,476.8 277.0,476.5 C280.2,476.2 283.4,476.0 286.7,476.0 C289.9,476.0 293.2,476.2 296.5,476.5 C299.8,476.8 303.1,477.2 306.3,477.6 C309.6,478.0 312.8,478.5 316.0,479.0 C319.2,479.5 322.6,480.1 325.8,480.8 C329.1,481.5 332.2,482.1 335.5,483.0 C338.8,483.9 342.6,484.9 345.3,486.0 C348.1,487.1 349.1,487.9 352.0,489.5 C354.9,491.1 359.3,493.5 363.0,495.5 C366.7,497.5 370.3,499.5 374.0,501.5 C377.7,503.5 381.3,505.6 385.0,507.5 C388.7,509.4 392.3,511.2 396.0,513.0 C399.7,514.8 403.3,516.5 407.0,518.0 C410.7,519.5 414.3,520.8 418.0,522.0 C421.7,523.2 425.3,524.4 429.0,525.5 C432.7,526.6 436.3,527.4 440.0,528.5 C443.7,529.6 447.3,530.9 451.0,532.0 C454.7,533.1 458.3,533.9 462.0,535.0 C465.7,536.1 469.3,537.3 473.0,538.5 C476.7,539.7 480.3,540.7 484.0,542.0 C487.7,543.3 491.3,545.1 495.0,546.5 C498.7,547.9 502.3,549.2 506.0,550.5 C509.7,551.8 513.3,553.4 517.0,554.5 C520.7,555.6 524.2,556.4 528.0,557.0 C531.8,557.6 535.3,557.8 540.0,558.0 C544.7,558.2 553.3,558.4 556.0,558.5 L556,595 L105,595 Z" fill="#3e3e3e" filter="url(#noise1)" opacity="0.9"/>
<path d="M105.0,554.0 C109.2,553.8 122.5,554.2 130.0,552.5 C137.5,550.8 145.0,546.3 150.0,544.0 C155.0,541.7 156.8,540.5 160.0,538.5 C163.2,536.5 166.3,534.6 169.5,532.3 C172.7,530.0 176.1,527.1 179.3,524.5 C182.6,521.9 185.8,519.2 189.0,516.6 C192.2,514.0 195.5,511.4 198.8,508.8 C202.1,506.2 205.3,503.3 208.6,501.0 C211.9,498.7 215.2,497.0 218.4,495.2 C221.7,493.4 224.8,491.9 228.1,490.3 C231.3,488.7 234.6,486.9 237.9,485.6 C241.2,484.3 244.4,483.5 247.7,482.5 C250.9,481.5 254.1,480.3 257.4,479.5 C260.6,478.7 263.9,478.1 267.2,477.6 C270.5,477.1 273.8,476.8 277.0,476.5 C280.2,476.2 283.4,476.0 286.7,476.0 C289.9,476.0 293.2,476.2 296.5,476.5 C299.8,476.8 303.1,477.2 306.3,477.6 C309.6,478.0 312.8,478.5 316.0,479.0 C319.2,479.5 322.6,480.1 325.8,480.8 C329.1,481.5 332.2,482.1 335.5,483.0 C338.8,483.9 342.6,484.9 345.3,486.0 C348.1,487.1 349.1,487.9 352.0,489.5 C354.9,491.1 359.3,493.5 363.0,495.5 C366.7,497.5 370.3,499.5 374.0,501.5 C377.7,503.5 381.3,505.6 385.0,507.5 C388.7,509.4 392.3,511.2 396.0,513.0 C399.7,514.8 403.3,516.5 407.0,518.0 C410.7,519.5 414.3,520.8 418.0,522.0 C421.7,523.2 425.3,524.4 429.0,525.5 C432.7,526.6 436.3,527.4 440.0,528.5 C443.7,529.6 447.3,530.9 451.0,532.0 C454.7,533.1 458.3,533.9 462.0,535.0 C465.7,536.1 469.3,537.3 473.0,538.5 C476.7,539.7 480.3,540.7 484.0,542.0 C487.7,543.3 491.3,545.1 495.0,546.5 C498.7,547.9 502.3,549.2 506.0,550.5 C509.7,551.8 513.3,553.4 517.0,554.5 C520.7,555.6 524.2,556.4 528.0,557.0 C531.8,557.6 535.3,557.8 540.0,558.0 C544.7,558.2 553.3,558.4 556.0,558.5 L556,595 L105,595 Z" fill="#9a9a9a" filter="url(#noise2)" opacity="0.6"/>
<path d="M105,583 L200,583 L300,581 L400,579 L556,580" stroke="#a0a0a0" stroke-width="7" fill="none" filter="url(#blur2)" opacity="0.75"/>
<path d="M105.0,554.0 C109.2,553.8 122.5,554.2 130.0,552.5 C137.5,550.8 145.0,546.3 150.0,544.0 C155.0,541.7 156.8,540.5 160.0,538.5 C163.2,536.5 166.3,534.6 169.5,532.3 C172.7,530.0 176.1,527.1 179.3,524.5 C182.6,521.9 185.8,519.2 189.0,516.6 C192.2,514.0 195.5,511.4 198.8,508.8 C202.1,506.2 205.3,503.3 208.6,501.0 C211.9,498.7 215.2,497.0 218.4,495.2 C221.7,493.4 224.8,491.9 228.1,490.3 C231.3,488.7 234.6,486.9 237.9,485.6 C241.2,484.3 244.4,483.5 247.7,482.5 C250.9,481.5 254.1,480.3 257.4,479.5 C260.6,478.7 263.9,478.1 267.2,477.6 C270.5,477.1 273.8,476.8 277.0,476.5 C280.2,476.2 283.4,476.0 286.7,476.0 C289.9,476.0 293.2,476.2 296.5,476.5 C299.8,476.8 303.1,477.2 306.3,477.6 C309.6,478.0 312.8,478.5 316.0,479.0 C319.2,479.5 322.6,480.1 325.8,480.8 C329.1,481.5 332.2,482.1 335.5,483.0 C338.8,483.9 342.6,484.9 345.3,486.0 C348.1,487.1 349.1,487.9 352.0,489.5 C354.9,491.1 359.3,493.5 363.0,495.5 C366.7,497.5 370.3,499.5 374.0,501.5 C377.7,503.5 381.3,505.6 385.0,507.5 C388.7,509.4 392.3,511.2 396.0,513.0 C399.7,514.8 403.3,516.5 407.0,518.0 C410.7,519.5 414.3,520.8 418.0,522.0 C421.7,523.2 425.3,524.4 429.0,525.5 C432.7,526.6 436.3,527.4 440.0,528.5 C443.7,529.6 447.3,530.9 451.0,532.0 C454.7,533.1 458.3,533.9 462.0,535.0 C465.7,536.1 469.3,537.3 473.0,538.5 C476.7,539.7 480.3,540.7 484.0,542.0 C487.7,543.3 491.3,545.1 495.0,546.5 C498.7,547.9 502.3,549.2 506.0,550.5 C509.7,551.8 513.3,553.4 517.0,554.5 C520.7,555.6 524.2,556.4 528.0,557.0 C531.8,557.6 535.3,557.8 540.0,558.0 C544.7,558.2 553.3,558.4 556.0,558.5" fill="none" stroke="#f0f0f0" stroke-width="2.2" filter="url(#blur1)"/>
<path d="M105.0,588.5 C112.5,588.6 134.2,588.8 150.0,589.0 C165.8,589.2 183.3,590.0 200.0,590.0 C216.7,590.0 233.3,589.5 250.0,589.0 C266.7,588.5 283.3,587.5 300.0,587.0 C316.7,586.5 333.3,586.1 350.0,586.0 C366.7,585.9 383.3,586.2 400.0,586.5 C416.7,586.8 433.3,587.0 450.0,587.5 C466.7,588.0 482.3,588.8 500.0,589.5 C517.7,590.2 546.7,591.6 556.0,592.0 L556,645 L105,645 Z" fill="#1f1f1f"/>
<path d="M105.0,588.5 C112.5,588.6 134.2,588.8 150.0,589.0 C165.8,589.2 183.3,590.0 200.0,590.0 C216.7,590.0 233.3,589.5 250.0,589.0 C266.7,588.5 283.3,587.5 300.0,587.0 C316.7,586.5 333.3,586.1 350.0,586.0 C366.7,585.9 383.3,586.2 400.0,586.5 C416.7,586.8 433.3,587.0 450.0,587.5 C466.7,588.0 482.3,588.8 500.0,589.5 C517.7,590.2 546.7,591.6 556.0,592.0 L556,645 L105,645 Z" fill="#0c0c0c" filter="url(#noise1)" opacity="0.8"/>
<path d="M105.0,588.5 C112.5,588.6 134.2,588.8 150.0,589.0 C165.8,589.2 183.3,590.0 200.0,590.0 C216.7,590.0 233.3,589.5 250.0,589.0 C266.7,588.5 283.3,587.5 300.0,587.0 C316.7,586.5 333.3,586.1 350.0,586.0 C366.7,585.9 383.3,586.2 400.0,586.5 C416.7,586.8 433.3,587.0 450.0,587.5 C466.7,588.0 482.3,588.8 500.0,589.5 C517.7,590.2 546.7,591.6 556.0,592.0 L556,645 L105,645 Z" fill="#3a3a3a" filter="url(#noise2)" opacity="0.5"/>
</g>
<text x="127" y="515.2" font-family="Liberation Serif" font-size="61" fill="#eeeeee" stroke="#767676" stroke-width="1.1" stroke-opacity="0.8" transform="translate(127 0) scale(0.96 1) translate(-127 0)">(b)</text>
<g font-family="Liberation Serif" font-weight="bold" fill="#ffffff">
<text x="272" y="539.5" font-size="37">QD</text>
<text x="359" y="582.4" font-size="24.7">WL</text>
<text x="182" y="598.4" font-size="33.5">10nm</text>
</g>
<rect x="178.2" y="614" width="87.4" height="5" fill="#ffffff"/>

</g>
<g stroke="#000" stroke-width="2.6" fill="none" stroke-linecap="butt">
<rect x="97.25" y="16" width="882.75" height="658.3" stroke-linejoin="miter"/>
<line x1="97.25" y1="674.3" x2="97.25" y2="687" />
<line x1="170.83" y1="674.3" x2="170.83" y2="681" />
<line x1="244.42" y1="674.3" x2="244.42" y2="687" />
<line x1="318.00" y1="674.3" x2="318.00" y2="681" />
<line x1="391.59" y1="674.3" x2="391.59" y2="687" />
<line x1="465.18" y1="674.3" x2="465.18" y2="681" />
<line x1="538.76" y1="674.3" x2="538.76" y2="687" />
<line x1="612.35" y1="674.3" x2="612.35" y2="681" />
<line x1="685.93" y1="674.3" x2="685.93" y2="687" />
<line x1="759.51" y1="674.3" x2="759.51" y2="681" />
<line x1="833.10" y1="674.3" x2="833.10" y2="687" />
<line x1="906.69" y1="674.3" x2="906.69" y2="681" />
<line x1="980.27" y1="674.3" x2="980.27" y2="687" />
</g>
<path d="M557.0,665.8 C560.0,665.3 569.8,664.2 575.3,663.0 C580.8,661.8 585.1,660.2 590.0,658.5 C594.9,656.8 598.5,655.5 604.5,652.8 C610.5,650.0 618.9,646.6 626.0,642.0 C633.1,637.4 641.7,630.6 647.4,624.9 C653.1,619.2 656.4,612.7 660.0,608.0 C663.6,603.3 666.4,599.4 668.9,596.5 C671.4,593.6 672.2,593.2 674.8,590.4 C677.4,587.6 681.4,582.5 684.7,579.5 C688.0,576.5 691.3,574.3 694.6,572.6 C697.9,570.9 701.2,570.1 704.5,569.1 C707.8,568.1 711.6,567.5 714.4,566.6 C717.2,565.7 719.2,565.0 721.3,563.7 C723.4,562.4 725.2,561.0 727.2,558.7 C729.2,556.4 731.5,552.8 733.2,549.8 C734.9,546.8 735.7,544.8 737.5,541.0 C739.3,537.2 741.9,532.0 744.0,527.0 C746.1,522.0 748.2,516.2 750.0,511.0 C751.8,505.8 753.2,500.8 754.5,495.6 C755.8,490.4 756.6,487.8 758.0,480.0 C759.4,472.2 761.4,459.2 763.0,449.1 C764.6,439.0 766.1,429.3 767.5,419.4 C768.9,409.5 770.0,399.6 771.2,389.7 C772.4,379.8 773.3,370.1 774.5,360.0 C775.7,349.9 777.2,339.2 778.3,329.1 C779.3,319.0 779.9,309.3 780.8,299.4 C781.7,289.5 782.8,279.6 783.8,269.7 C784.8,259.8 785.9,247.6 786.6,240.0 C787.3,232.4 787.3,229.2 787.8,224.0 C788.2,218.8 788.8,214.0 789.3,209.1 C789.8,204.2 790.4,199.2 791.0,194.3 C791.6,189.4 792.4,184.4 793.1,179.4 C793.8,174.4 794.5,169.6 795.3,164.6 C796.0,159.6 796.7,154.5 797.6,149.7 C798.5,144.9 799.3,139.9 800.6,136.0 C801.9,132.1 803.8,126.5 805.4,126.5 C807.0,126.5 808.9,132.1 810.2,136.0 C811.5,139.9 812.3,144.9 813.2,149.7 C814.1,154.5 814.7,159.6 815.4,164.6 C816.1,169.6 817.0,174.4 817.6,179.4 C818.2,184.4 818.6,189.4 819.1,194.3 C819.6,199.2 820.2,204.2 820.6,209.1 C821.0,214.0 821.5,218.8 821.8,224.0 C822.1,229.2 822.1,232.4 822.5,240.0 C822.9,247.6 823.7,259.8 824.4,269.7 C825.1,279.6 825.9,289.5 826.6,299.4 C827.3,309.3 828.1,319.0 828.8,329.1 C829.5,339.2 830.2,349.9 830.9,360.0 C831.6,370.1 832.1,379.8 832.8,389.7 C833.5,399.6 834.3,409.5 835.1,419.4 C835.9,429.3 836.9,439.0 837.7,449.1 C838.6,459.2 839.2,469.6 840.2,480.0 C841.2,490.4 842.6,500.8 843.8,511.2 C844.9,521.7 845.7,532.1 846.9,542.5 C848.1,552.9 849.6,565.8 850.8,573.8 C852.0,581.7 853.0,585.0 854.0,590.0 C855.0,595.0 856.0,599.2 857.1,603.7 C858.2,608.2 859.1,612.8 860.5,617.3 C861.9,621.8 863.4,626.4 865.3,631.0 C867.2,635.6 869.7,640.6 872.1,644.7 C874.5,648.8 876.4,652.6 879.7,655.6 C883.0,658.6 886.8,660.7 892.0,662.5 C897.2,664.3 903.8,665.6 911.1,666.6 C918.4,667.6 928.1,668.2 935.7,668.6 C943.4,669.0 953.5,669.1 957.0,669.2" fill="none" stroke="#000" stroke-width="4.7" stroke-linecap="round" stroke-linejoin="round"/>
<path d="M97.0,672.8 C144.2,672.8 319.8,672.9 380.0,672.8 C440.2,672.7 438.5,672.4 458.0,672.1 C477.5,671.8 487.2,671.4 497.0,670.9 C506.8,670.4 510.2,670.0 516.7,669.3 C523.2,668.5 529.7,667.5 536.2,666.4 C542.8,665.3 549.3,664.0 555.8,662.5 C562.3,661.0 569.6,659.0 575.3,657.6 C581.0,656.2 585.1,655.3 590.0,654.0 C594.9,652.7 598.5,652.3 604.5,649.8 C610.5,647.3 618.9,643.5 626.0,638.8 C633.1,634.1 642.1,626.4 647.4,621.6 C652.7,616.8 655.0,613.2 657.9,610.0 C660.8,606.8 662.1,605.1 664.9,602.3 C667.7,599.5 671.5,595.7 674.8,593.4 C678.1,591.1 681.4,589.8 684.7,588.4 C688.0,587.0 691.3,586.0 694.6,585.0 C697.9,584.0 701.2,583.9 704.5,582.5 C707.8,581.1 711.1,579.0 714.4,576.5 C717.7,574.0 721.5,570.6 724.3,567.6 C727.1,564.6 729.1,562.2 731.2,558.7 C733.3,555.2 735.3,550.8 737.1,546.8 C738.9,542.8 740.9,538.3 742.1,535.0 C743.3,531.7 743.2,530.9 744.5,526.9 C745.8,522.9 748.3,516.5 750.0,511.2 C751.7,506.0 753.3,500.8 754.7,495.6 C756.1,490.4 756.5,487.8 758.3,480.0 C760.0,472.2 763.2,459.2 765.2,449.1 C767.2,439.0 768.7,429.3 770.4,419.4 C772.1,409.5 773.8,399.6 775.3,389.7 C776.8,379.8 778.3,367.6 779.5,360.0 C780.7,352.4 781.3,349.1 782.3,344.0 C783.3,338.9 784.3,334.1 785.3,329.1 C786.3,324.2 787.3,319.2 788.3,314.3 C789.3,309.4 790.2,303.6 791.2,299.4 C792.2,295.2 793.0,291.9 794.5,289.0 C796.0,286.1 798.5,282.5 800.2,282.3 C802.0,282.1 803.6,285.1 805.0,288.0 C806.4,290.9 807.2,295.0 808.3,299.4 C809.4,303.8 810.6,309.4 811.6,314.3 C812.6,319.2 813.5,324.2 814.3,329.1 C815.1,334.1 815.8,338.9 816.5,344.0 C817.2,349.1 817.7,352.4 818.4,360.0 C819.1,367.6 819.9,379.8 820.9,389.7 C821.9,399.6 823.2,409.5 824.4,419.4 C825.6,429.3 826.7,439.0 827.9,449.1 C829.1,459.2 830.2,469.6 831.5,480.0 C832.8,490.4 834.4,500.8 835.9,511.2 C837.4,521.7 839.0,532.1 840.6,542.5 C842.2,552.9 844.1,565.8 845.3,573.8 C846.5,581.7 847.2,585.0 848.0,590.0 C848.8,595.0 849.3,599.2 850.3,603.7 C851.2,608.2 852.2,612.8 853.7,617.3 C855.2,621.8 857.1,626.4 859.1,631.0 C861.1,635.6 863.0,640.1 866.0,644.7 C869.0,649.3 872.6,654.8 876.9,658.4 C881.2,662.0 886.3,664.5 892.0,666.6 C897.7,668.7 903.8,669.8 911.1,670.7 C918.4,671.6 924.2,671.9 935.7,672.2 C947.2,672.6 972.6,672.7 980.0,672.8" fill="none" stroke="#ff0000" stroke-width="4.7" stroke-linecap="round" stroke-linejoin="round"/>
<g font-size="39.5" fill="#000">
<text x="97.25" y="726" text-anchor="middle">800</text>
<text x="244.42" y="726" text-anchor="middle">900</text>
<text x="391.59" y="726" text-anchor="middle">1000</text>
<text x="538.76" y="726" text-anchor="middle">1100</text>
<text x="685.93" y="726" text-anchor="middle">1200</text>
<text x="833.10" y="726" text-anchor="middle">1300</text>
<text x="980.27" y="726" text-anchor="middle">1400</text>
<text x="538.5" y="791.7" text-anchor="middle">Wavelength (nm)</text>
<text transform="translate(37.2,371) rotate(-90)" text-anchor="middle" font-size="40">Normalized PL (a.u.)</text>
<text x="643" y="64">QDs/ GaAs</text>
<text x="643" y="112">QDs/ Si</text>
<text x="908" y="643" font-size="51">(c)</text>
</g>
<line x1="565" y1="53" x2="633.8" y2="53" stroke="#000" stroke-width="5" stroke-linecap="round"/>
<line x1="565" y1="102" x2="633.8" y2="102" stroke="#ff0000" stroke-width="5" stroke-linecap="round"/>
</svg>
</body></html>
